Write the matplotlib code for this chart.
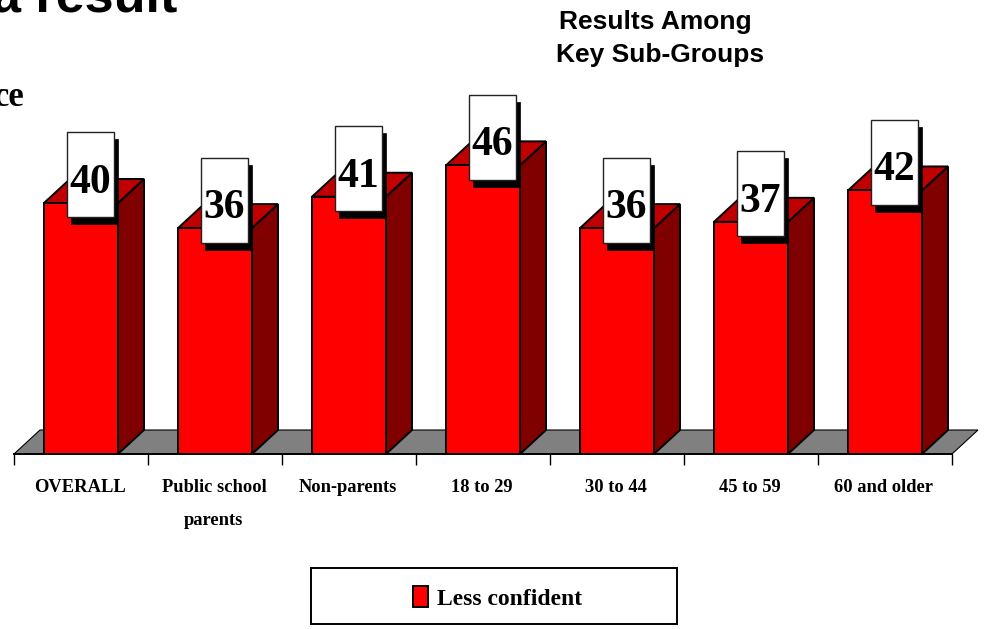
import matplotlib
matplotlib.use("Agg")
import matplotlib.pyplot as plt
from matplotlib.patches import Polygon, Rectangle

W, H = 984, 629

categories = ["OVERALL", "Public school\nparents", "Non-parents", "18 to 29",
              "30 to 44", "45 to 59", "60 and older"]
values = [40, 36, 41, 46, 36, 37, 42]
series_name = "Less confident"

# pixels per unit
px_x = 134.0
px_y = 6.275
dx = 26 / px_x
dy = 24 / px_y
bar_w = 74 / px_x


def fx(px):
    return px / W


def fy(py):
    return 1 - py / H


fig = plt.figure(figsize=(W / 100, H / 100), dpi=100)
ax = fig.add_axes([fx(14), fy(454), 938 / W, 454 / H])
ax.patch.set_visible(False)
ax.set_xlim(-0.5, len(values) - 0.5)
ax.set_ylim(0, 454 / px_y)

serif = "Liberation Serif"
sans = "Liberation Sans"
lw = 1.4

# Floor
floor = Polygon([(-0.5, 0), (-0.5 + dx, dy), (6.5 + dx, dy), (6.5, 0)], closed=True,
                facecolor="#808080", edgecolor="black", linewidth=0.8, clip_on=False, zorder=1)
ax.add_patch(floor)

x = range(len(values))
for i, v in zip(x, values):
    z = 2 + i
    left = i - bar_w / 2
    right = i + bar_w / 2
    # side and top faces
    ax.add_patch(Polygon([(right, 0), (right + dx, dy), (right + dx, v + dy), (right, v)],
                         facecolor="#800000", edgecolor="black", linewidth=lw, clip_on=False, zorder=z))
    ax.add_patch(Polygon([(left, v), (left + dx, v + dy), (right + dx, v + dy), (right, v)],
                         facecolor="#c00000", edgecolor="black", linewidth=lw, clip_on=False, zorder=z))
    ax.bar(i, v, width=bar_w, color="#ff0000", edgecolor="black", linewidth=lw, zorder=z + 0.1)

# Value flags go on top of all the bars
box_w = 47 / px_x
box_h = 85 / px_y
for i, v in zip(x, values):
    cx = i + 9 / px_x
    cy = v + 28 / px_y
    ax.add_patch(Rectangle((cx - box_w / 2 + 4 / px_x, cy - box_h / 2 - 7 / px_y), box_w, box_h,
                           facecolor="black", edgecolor="black", linewidth=0.5, clip_on=False, zorder=20))
    ax.add_patch(Rectangle((cx - box_w / 2, cy - box_h / 2), box_w, box_h,
                           facecolor="white", edgecolor="#222222", linewidth=1.0, clip_on=False, zorder=21))
    ax.text(cx, cy - 8 / px_y, str(v), ha="center", va="center", family=serif, weight="bold",
            fontsize=30, color="black", zorder=22)

for s in ["top", "left", "right"]:
    ax.spines[s].set_visible(False)
ax.spines["bottom"].set_linewidth(lw)
ax.spines["bottom"].set_zorder(15)
ax.set_yticks([])
ax.set_xticks([i - 0.5 for i in range(len(values) + 1)])
ax.set_xticklabels([])
ax.tick_params(axis="x", length=8, width=1.0, color="black")

# Category labels
for i, name in zip(x, categories):
    px = 81 + px_x * i
    lines = name.split("\n")
    for j, line in enumerate(lines):
        fig.text(fx(px - 1), fy(492 + 33 * j), line, ha="center", va="baseline", family=serif,
                 weight="bold", fontsize=13.3, color="black")

# Slide text around the chart
fig.text(fx(177), fy(12), "a result", ha="right", va="baseline", family=sans, weight="bold",
         fontsize=37.5, color="black")
fig.text(fx(25), fy(106), "ce", ha="right", va="baseline", family=serif, weight="bold",
         fontsize=25, color="black")
fig.text(fx(655), fy(29), "Results Among", ha="center", va="baseline", family=sans, weight="bold",
         fontsize=19, color="black")
fig.text(fx(660), fy(62), "Key Sub-Groups", ha="center", va="baseline", family=sans, weight="bold",
         fontsize=19, color="black")

# Legend frame and entry
fig.patches.append(Rectangle((fx(311), fy(624)), 366 / W, 56 / H, transform=fig.transFigure,
                             facecolor="white", edgecolor="black", linewidth=lw, figure=fig))
handle = Rectangle((0, 0), 1, 1, facecolor="#ff0000", edgecolor="black", linewidth=lw)
leg = fig.legend([handle], [series_name], loc="center", bbox_to_anchor=(fx(498), fy(598)), frameon=False,
                 handlelength=0.62, handleheight=0.95, handletextpad=0.4, borderpad=0,
                 prop={"family": serif, "weight": "bold", "size": 17})

fig.savefig("out.png", dpi=100)
